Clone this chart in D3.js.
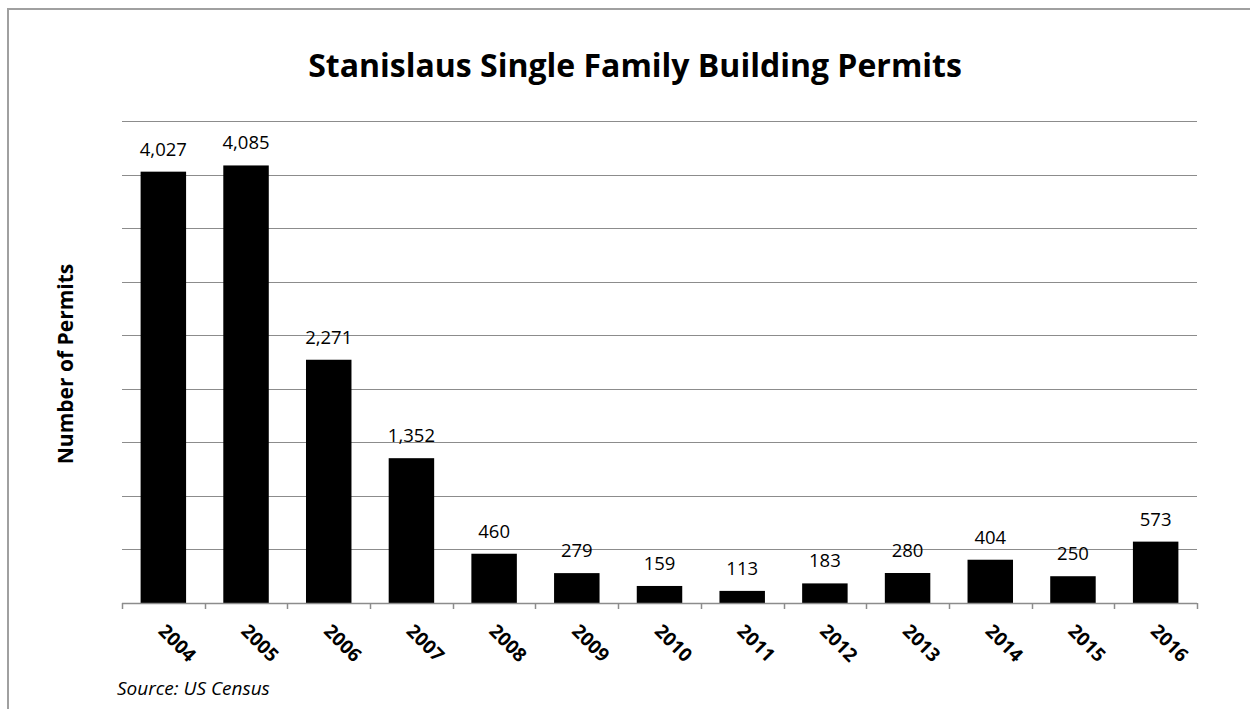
<!DOCTYPE html>
<html>
<head>
<meta charset="utf-8">
<script src="https://cdn.jsdelivr.net/npm/d3@7"></script>
<style>
	body { margin: 0; background: #fff; }
	svg { display: block; font-family: "Open Sans", sans-serif; }
</style>
</head>
<body>
<script>
//chart data
var years = ["2004", "2005", "2006", "2007", "2008", "2009", "2010", "2011", "2012", "2013", "2014", "2015", "2016"];
var permits = [4027, 4085, 2271, 1352, 460, 279, 159, 113, 183, 280, 404, 250, 573];
var gridValues = [500, 1000, 1500, 2000, 2500, 3000, 3500, 4000, 4500];

var width = 1250, height = 709;
var plotLeft = 122, plotRight = 1197, plotTop = 121, plotBottom = 603;

var svg = d3.select("body").append("svg")
	.attr("width", width)
	.attr("height", height);

svg.append("rect")
	.attr("width", width)
	.attr("height", height)
	.style("fill", "#fff");

//outer frame, runs off the right and bottom edges
svg.append("rect")
	.attr("x", 8)
	.attr("y", 9)
	.attr("width", 1400)
	.attr("height", 900)
	.style("fill", "none")
	.attr("stroke", "#a0a0a0")
	.attr("stroke-width", 2);

var x = d3.scaleBand()
	.domain(years)
	.range([plotLeft, plotRight])
	.paddingInner(0.45)
	.paddingOuter(0.225);

var y = d3.scaleLinear()
	.domain([0, 4500])
	.range([plotBottom, plotTop]);

svg.append("g").selectAll("line")
	.data(gridValues)
	.join("line")
	.attr("x1", plotLeft)
	.attr("x2", plotRight)
	.attr("y1", function(d){ return Math.round(y(d)) + 0.5; })
	.attr("y2", function(d){ return Math.round(y(d)) + 0.5; })
	.attr("stroke", "#8c8c8c")
	.attr("stroke-width", 1);

//bars
svg.append("g").selectAll("rect")
	.data(permits)
	.join("rect")
	.attr("x", function(d, i){ return x(years[i]); })
	.attr("y", function(d){ return y(d); })
	.attr("width", x.bandwidth())
	.attr("height", function(d){ return plotBottom - y(d); })
	.style("fill", "#000");

//value labels
svg.append("g").selectAll("text")
	.data(permits)
	.join("text")
	.attr("x", function(d, i){ return x(years[i]) + x.bandwidth() / 2; })
	.attr("y", function(d){ return y(d) - 16; })
	.attr("text-anchor", "middle")
	.style("font-size", "18.5px")
	.style("fill", "#000")
	.text(d3.format(","));

//category axis: line plus ticks on band edges
var step = x.step();
var edges = years.map(function(d){ return x(d) - x.paddingInner() * step / 2; });
edges.push(plotRight);

svg.append("line")
	.attr("x1", plotLeft)
	.attr("x2", plotRight)
	.attr("y1", plotBottom + 0.5)
	.attr("y2", plotBottom + 0.5)
	.attr("stroke", "#8c8c8c")
	.attr("stroke-width", 1.5);

svg.append("g").selectAll("line")
	.data(edges)
	.join("line")
	.attr("x1", function(d){ return Math.round(d) + 0.5; })
	.attr("x2", function(d){ return Math.round(d) + 0.5; })
	.attr("y1", plotBottom)
	.attr("y2", plotBottom + 6)
	.attr("stroke", "#8c8c8c")
	.attr("stroke-width", 1.5);

svg.append("g").selectAll("text")
	.data(years)
	.join("text")
	.attr("transform", function(d){
		var cx = x(d) + x.bandwidth() / 2 + 14;
		var cy = plotBottom + 40;
		return "translate(" + cx + "," + cy + ") rotate(45)";
	})
	.attr("text-anchor", "middle")
	.attr("dy", "0.35em")
	.style("font-size", "19px")
	.style("font-weight", "bold")
	.text(function(d){ return d; });

//titles
svg.append("text")
	.attr("x", 635)
	.attr("y", 77)
	.attr("text-anchor", "middle")
	.style("font-size", "32px")
	.style("font-weight", "bold")
	.text("Stanislaus Single Family Building Permits");

svg.append("text")
	.attr("transform", "translate(73," + ((plotTop + plotBottom) / 2 + 2) + ") rotate(-90)")
	.attr("text-anchor", "middle")
	.style("font-size", "21px")
	.style("font-weight", "bold")
	.text("Number of Permits");

svg.append("text")
	.attr("x", 117)
	.attr("y", 695)
	.style("font-size", "19px")
	.style("font-style", "italic")
	.text("Source: US Census");
</script>
</body>
</html>
